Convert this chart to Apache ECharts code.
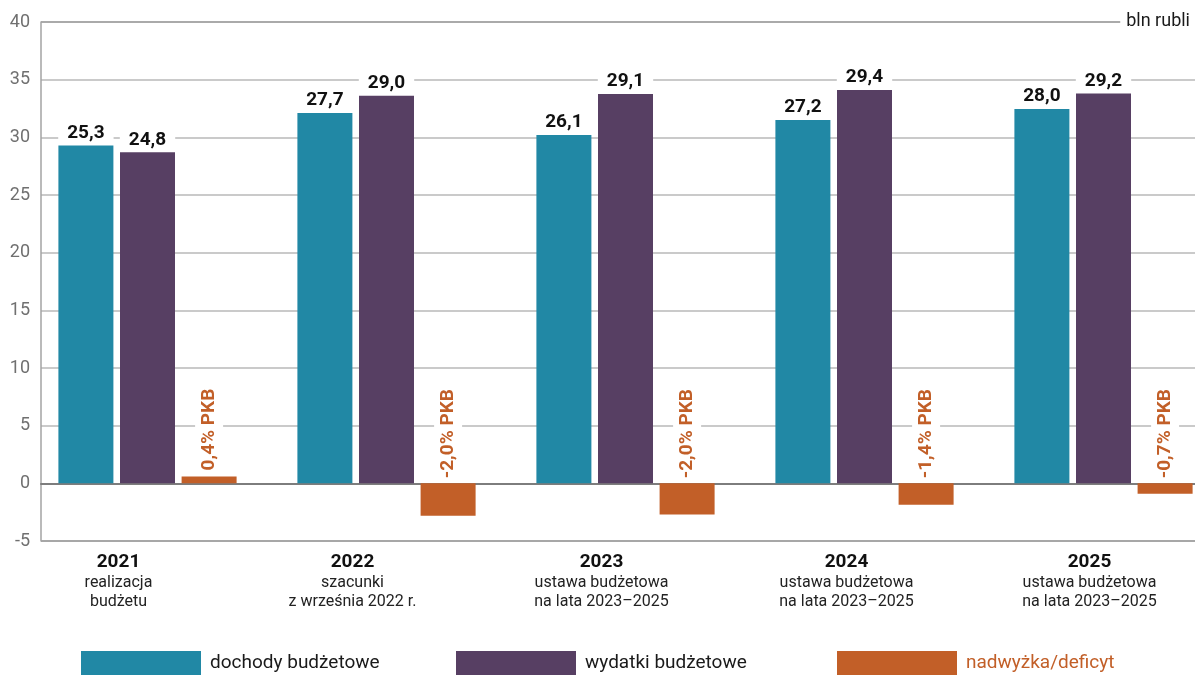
<!DOCTYPE html>
<html>
<head>
<meta charset="utf-8">
<script src="https://cdn.jsdelivr.net/npm/echarts@6/dist/echarts.min.js"></script>
<style>
  html, body { margin: 0; padding: 0; background: #fff; }
  #chart { width: 1195px; height: 675px; }
</style>
</head>
<body>
<div id="chart"></div>
<script>
// Budget years and the description under each year
const categories = ['2021', '2022', '2023', '2024', '2025'];
const categoryNotes = [
  ['realizacja', 'budżetu'],
  ['szacunki', 'z września 2022 r.'],
  ['ustawa budżetowa', 'na lata 2023–2025'],
  ['ustawa budżetowa', 'na lata 2023–2025'],
  ['ustawa budżetowa', 'na lata 2023–2025']
];
// Horizontal nudge (px) of each category caption
const captionShift = [-29, -34, -24, -18, -14];

// Bar heights, bln rubli
const revenues = [29.3, 32.1, 30.2, 31.5, 32.45];
const expenditures = [28.7, 33.6, 33.75, 34.1, 33.8];
const balance = [0.6, -2.8, -2.7, -1.85, -0.9];

// Values printed on the bars
const revenueLabels = [25.3, 27.7, 26.1, 27.2, 28.0];
const expenditureLabels = [24.8, 29.0, 29.1, 29.4, 29.2];
const balanceLabels = [0.4, -2.0, -2.0, -1.4, -0.7];

const seriesNames = ['dochody budżetowe', 'wydatki budżetowe', 'nadwyżka/deficyt'];
const colors = ['#2188a5', '#573f63', '#c25f28'];

const yMin = -5, yMax = 40, yStep = 5;

const fmt = v => v.toFixed(1).replace('.', ',');
const FONT = 'Roboto';

const chart = echarts.init(document.getElementById('chart'), null, { renderer: 'canvas' });

const valueLabel = (labels) => ({
  show: true,
  position: 'top',
  distance: 3,
  formatter: p => fmt(labels[p.dataIndex]),
  fontFamily: FONT,
  fontSize: 19,
  fontWeight: 'bold',
  color: '#111',
  backgroundColor: '#fff',
  padding: [2, 9, 0, 9]
});

const option = {
  animation: false,
  backgroundColor: '#fff',
  grid: [
    { left: 41, right: 0, top: 22, bottom: 134, containLabel: false, outerBoundsMode: 'none' },
    // bars: five category slots of 239 px, the last one running past the right edge
    { left: 28, width: 1195, top: 22, bottom: 134, containLabel: false, outerBoundsMode: 'none' }
  ],
  xAxis: [
    {
      gridIndex: 0, type: 'category', data: categories,
      axisLine: { onZero: true, lineStyle: { color: '#7d7d7d', width: 2 } },
      axisTick: { show: false }, axisLabel: { show: false }, splitLine: { show: false }
    },
    {
      gridIndex: 1, type: 'category',
      data: categories.map((c, i) => ({
        value: c,
        textStyle: { padding: captionShift[i] < 0 ? [0, -2 * captionShift[i], 0, 0] : [0, 0, 0, 2 * captionShift[i]] }
      })),
      position: 'bottom',
      axisLine: { show: false, onZero: false }, axisTick: { show: false },
      axisLabel: {
        margin: 10,
        interval: 0,
        formatter: (v, i) => '{y|' + v + '}\n{s|' + categoryNotes[i][0] + '}\n{s|' + categoryNotes[i][1] + '}',
        rich: {
          y: { fontFamily: FONT, fontSize: 19, fontWeight: 'bold', color: '#111', lineHeight: 22, align: 'center' },
          s: { fontFamily: FONT, fontSize: 16, color: '#222', lineHeight: 19, align: 'center' }
        }
      }
    }
  ],
  yAxis: [
    {
      gridIndex: 0, type: 'value', min: yMin, max: yMax, interval: yStep,
      axisLine: { show: true, lineStyle: { color: '#a3a3a3', width: 1.5 } },
      axisTick: { show: false },
      axisLabel: { margin: 11, fontFamily: FONT, fontSize: 18, color: '#707070' },
      splitLine: {
        show: true,
        lineStyle: {
          width: 1.5,
          color: ['#8a8a8a', '#7d7d7d', '#b9b9b9', '#b9b9b9', '#b9b9b9', '#b9b9b9',
                  '#b9b9b9', '#b9b9b9', '#b9b9b9', '#8e8e8e']
        }
      }
    },
    {
      gridIndex: 1, type: 'value', min: yMin, max: yMax, interval: yStep, show: false,
      splitLine: { show: false }
    }
  ],
  legend: seriesNames.map((n, i) => ({
    data: [i === 2 ? { name: n, textStyle: { color: colors[2] } } : n],
    left: [81, 456, 837][i],
    top: 651,
    padding: 0,
    icon: 'rect',
    itemWidth: 120,
    itemHeight: 24,
    textStyle: { fontFamily: FONT, fontSize: 19, color: '#1a1a1a', padding: [0, 0, 0, 4] }
  })),
  series: [
    {
      name: seriesNames[0], type: 'bar', xAxisIndex: 1, yAxisIndex: 1,
      data: revenues, barWidth: 55, barGap: '12%',
      itemStyle: { color: colors[0] },
      label: valueLabel(revenueLabels)
    },
    {
      name: seriesNames[1], type: 'bar', xAxisIndex: 1, yAxisIndex: 1,
      data: expenditures, barWidth: 55, barGap: '12%',
      itemStyle: { color: colors[1] },
      label: valueLabel(expenditureLabels)
    },
    {
      name: seriesNames[2], type: 'bar', xAxisIndex: 1, yAxisIndex: 1,
      data: balance.map(v => ({ value: v, label: { distance: v >= 0 ? 4 : 3 } })),
      barWidth: 55, barGap: '12%',
      itemStyle: { color: colors[2] },
      label: {
        show: true,
        position: 'top',
        rotate: 90,
        align: 'left',
        verticalAlign: 'middle',
        formatter: p => fmt(balanceLabels[p.dataIndex]) + '% PKB',
        fontFamily: FONT,
        fontSize: 19,
        fontWeight: 'bold',
        color: colors[2],
        backgroundColor: '#fff',
        padding: [5, 2, 4, 2]
      }
    }
  ],
  graphic: [
    {
      type: 'text',
      right: 0,
      top: 12,
      z: 100,
      style: {
        text: 'bln rubli',
        font: '18px Roboto',
        fill: '#1a1a1a',
        backgroundColor: '#fff',
        padding: [0, 5, 0, 6]
      }
    }
  ]
};

chart.setOption(option);
</script>
</body>
</html>
